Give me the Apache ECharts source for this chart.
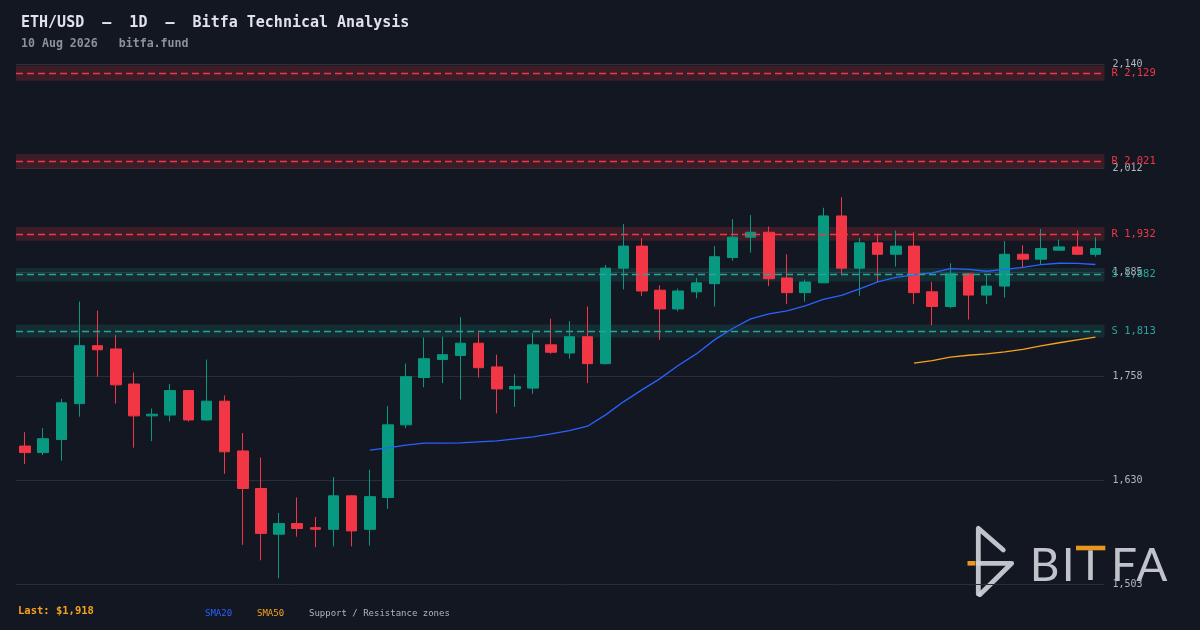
<!DOCTYPE html>
<html>
<head>
<meta charset="utf-8">
<script src="https://cdn.jsdelivr.net/npm/echarts@6/dist/echarts.min.js"></script>
<style>
  html, body { margin: 0; padding: 0; background: #131722; }
  #chart { width: 1200px; height: 630px; }
</style>
</head>
<body>
<div id="chart"></div>
<script>
// ---- data ----
const categories = [
  '2026-06-12','2026-06-13','2026-06-14','2026-06-15','2026-06-16','2026-06-17','2026-06-18','2026-06-19','2026-06-20','2026-06-21',
  '2026-06-22','2026-06-23','2026-06-24','2026-06-25','2026-06-26','2026-06-27','2026-06-28','2026-06-29','2026-06-30','2026-07-01',
  '2026-07-02','2026-07-03','2026-07-04','2026-07-05','2026-07-06','2026-07-07','2026-07-08','2026-07-09','2026-07-10','2026-07-11',
  '2026-07-12','2026-07-13','2026-07-14','2026-07-15','2026-07-16','2026-07-17','2026-07-18','2026-07-19','2026-07-20','2026-07-21',
  '2026-07-22','2026-07-23','2026-07-24','2026-07-25','2026-07-26','2026-07-27','2026-07-28','2026-07-29','2026-07-30','2026-07-31',
  '2026-08-01','2026-08-02','2026-08-03','2026-08-04','2026-08-05','2026-08-06','2026-08-07','2026-08-08','2026-08-09','2026-08-10'
];
const opens = [
  1672,1664,1680,1724,1795,1791,1748,1709,1710,1740,
  1704,1727,1666,1620,1564,1577,1572,1570,1611,1570,
  1609,1698,1756,1778,1783,1798,1769,1742,1743,1796,
  1786,1806,1773,1890,1917,1863,1840,1861,1871,1903,
  1928,1934,1878,1860,1872,1954,1890,1921,1907,1917,
  1861,1843,1883,1857,1868,1907,1901,1912,1916,1907
];
const closes = [
  1664,1681,1725,1795,1790,1747,1709,1711,1740,1704,
  1727,1665,1620,1565,1577,1571,1570,1611,1568,1610,
  1698,1757,1779,1784,1798,1768,1742,1745,1796,1787,
  1806,1773,1890,1917,1862,1840,1862,1872,1904,1928,
  1934,1877,1860,1873,1954,1890,1921,1907,1917,1860,
  1843,1883,1857,1868,1907,1901,1914,1916,1907,1914
];
const lows = [
  1650,1661,1654,1708,1757,1724,1670,1678,1702,1702,
  1703,1638,1551,1532,1510,1561,1548,1549,1549,1550,
  1595,1694,1744,1749,1729,1756,1712,1720,1736,1785,
  1779,1749,1772,1864,1856,1802,1837,1853,1843,1899,
  1909,1868,1846,1849,1872,1882,1856,1873,1892,1846,
  1820,1841,1827,1846,1854,1890,1894,1911,1906,1904
];
const highs = [
  1689,1694,1730,1849,1838,1808,1762,1718,1748,1740,
  1778,1734,1688,1658,1590,1609,1585,1634,1612,1643,
  1721,1773,1805,1806,1830,1811,1784,1760,1811,1828,
  1825,1843,1894,1944,1927,1869,1865,1878,1917,1950,
  1955,1941,1907,1876,1964,1977,1927,1932,1936,1934,
  1873,1896,1884,1881,1923,1918,1938,1925,1936,1928
];
const sma20 = [
  null,null,null,null,null,null,null,null,null,null,
  null,null,null,null,null,null,null,null,null,1666.9,
  1669.8,1673.1,1675.5,1675.5,1675.9,1677.1,1678.3,1680.8,1683.2,1686.9,
  1690.9,1696.3,1710.2,1726.5,1740.8,1754.6,1770.8,1784.9,1802.1,1816.1,
  1827.8,1833.9,1837.6,1843.7,1851.7,1856.6,1864.5,1873.1,1878.6,1881.7,
  1884.1,1889.4,1888.4,1886.2,1888.4,1890.9,1894.2,1896.0,1895.8,1894.5
];
const sma50 = [
  null,null,null,null,null,null,null,null,null,null,
  null,null,null,null,null,null,null,null,null,null,
  null,null,null,null,null,null,null,null,null,null,
  null,null,null,null,null,null,null,null,null,null,
  null,null,null,null,null,null,null,null,null,1773.5,
  1776.7,1780.9,1783.3,1784.9,1787.4,1790.4,1794.7,1798.6,1802.1,1805.4
];
const zoneLevels = [2129, 2021, 1932, 1882, 1813];
const zoneKinds  = ['R', 'R', 'R', 'S', 'S'];
const yTickLabels = ['1,503', '1,630', '1,758', '1,885', '2,012', '2,140'];
const lastPrice = 1918;

// ---- styling ----
const BG = '#131722';
const UP = '#089981';
const DOWN = '#f23645';
const RES = '#f23645';
const SUP = '#26a69a';
const MONO = '"DejaVu Sans Mono", "Liberation Mono", monospace';
const ZONE_HALF = 0.0044;

const fmt = v => v.toLocaleString('en-US');

const candleData = categories.map((_, i) => [opens[i], closes[i], lows[i], highs[i]]);

const markAreaData = zoneLevels.map((lv, i) => {
  const c = zoneKinds[i] === 'R' ? 'rgba(242,54,69,0.18)' : 'rgba(38,166,154,0.15)';
  return [{ yAxis: lv * (1 - ZONE_HALF), itemStyle: { color: c } }, { yAxis: lv * (1 + ZONE_HALF) }];
});
const markLineData = zoneLevels.map((lv, i) => {
  const c = zoneKinds[i] === 'R' ? RES : SUP;
  return {
    yAxis: lv,
    lineStyle: { color: c, type: [7, 4], width: 1.4 },
    label: { formatter: zoneKinds[i] + ' ' + fmt(lv), color: c }
  };
});

const chart = echarts.init(document.getElementById('chart'), null, { renderer: 'canvas' });

const option = {
  backgroundColor: BG,
  animation: false,
  grid: { left: 16, right: 95.5, top: 64.3, bottom: 45.7, containLabel: false },
  xAxis: {
    type: 'category',
    data: categories,
    boundaryGap: true,
    axisLine: { show: false },
    axisTick: { show: false },
    axisLabel: { show: false },
    splitLine: { show: false }
  },
  yAxis: [
    {
      type: 'value',
      position: 'right',
      min: 1502.6,
      max: 2139.8,
      show: false,
      scale: true
    },
    {
      type: 'value',
      position: 'right',
      min: 0,
      max: 5,
      interval: 1,
      axisLine: { show: false },
      axisTick: { show: false },
      axisLabel: {
        color: '#b2b5be',
        fontFamily: MONO,
        fontSize: 10,
        margin: 8,
        formatter: v => yTickLabels[Math.round(v)]
      },
      splitLine: { lineStyle: { color: '#2a2e39', width: 1 } }
    }
  ],
  series: [
    {
      type: 'candlestick',
      yAxisIndex: 0,
      data: candleData,
      barWidth: 11,
      itemStyle: {
        color: UP, color0: DOWN,
        borderColor: UP, borderColor0: DOWN,
        borderWidth: 1
      },
      markArea: { silent: true, data: markAreaData },
      markLine: {
        silent: true,
        symbol: 'none',
        label: { position: 'end', distance: 7, fontFamily: MONO, fontSize: 10.5 },
        data: markLineData
      }
    },
    {
      type: 'line',
      name: 'SMA20',
      yAxisIndex: 0,
      data: sma20,
      showSymbol: false,
      lineStyle: { color: '#2962ff', width: 1.3 },
      z: 3
    },
    {
      type: 'line',
      name: 'SMA50',
      yAxisIndex: 0,
      data: sma50,
      showSymbol: false,
      lineStyle: { color: '#f7a21b', width: 1.3 },
      z: 3
    }
  ],
  graphic: [
    { type: 'text', left: 21, top: 16, style: { text: 'ETH/USD  \u2014  1D  \u2014  Bitfa Technical Analysis', font: 'bold 15px ' + MONO, fill: '#e1e3ea' } },
    { type: 'text', left: 21, top: 38, style: { text: '10 Aug 2026   bitfa.fund', font: 'bold 11.6px ' + MONO, fill: '#8d919b' } },
    { type: 'text', left: 18, top: 606, style: { text: 'Last: $' + fmt(lastPrice), font: 'bold 10.5px ' + MONO, fill: '#f7a21b' } },
    { type: 'text', left: 205, top: 609, style: { text: 'SMA20', font: '9px ' + MONO, fill: '#2962ff' } },
    { type: 'text', left: 257, top: 609, style: { text: 'SMA50', font: '9px ' + MONO, fill: '#f7a21b' } },
    { type: 'text', left: 309, top: 609, style: { text: 'Support / Resistance zones', font: '9px ' + MONO, fill: '#b2b5be' } },
    // logo icon
    { type: 'polyline', silent: true, shape: { points: [[1003.3, 550], [978.3, 528.3], [978.3, 594]] },
      style: { stroke: '#cfd2d8', lineWidth: 4.8, fill: null, lineCap: 'round', lineJoin: 'round', opacity: 0.92 } },
    { type: 'polyline', silent: true, shape: { points: [[978.3, 563.3], [1011.7, 563.3], [980, 594.5]] },
      style: { stroke: '#cfd2d8', lineWidth: 4.8, fill: null, lineCap: 'round', lineJoin: 'round', opacity: 0.92 } },
    { type: 'line', silent: true, shape: { x1: 967.5, y1: 563.3, x2: 975.5, y2: 563.3 },
      style: { stroke: '#e8961e', lineWidth: 4.6 } },
    // logo wordmark
    { type: 'text', silent: true, style: { text: 'B', x: 1044.5, y: 566, align: 'center', verticalAlign: 'middle', font: '46px Lato, "Noto Sans", sans-serif', fill: '#cfd2d8', opacity: 0.92 } },
    { type: 'text', silent: true, style: { text: 'I', x: 1068.3, y: 566, align: 'center', verticalAlign: 'middle', font: '46px Lato, "Noto Sans", sans-serif', fill: '#cfd2d8', opacity: 0.92 } },
    { type: 'rect', silent: true, shape: { x: 1076, y: 545.7, width: 29.3, height: 4.6 }, style: { fill: '#e8961e' } },
    { type: 'rect', silent: true, shape: { x: 1088.2, y: 550.3, width: 4.6, height: 29.7 }, style: { fill: '#cfd2d8', opacity: 0.92 } },
    { type: 'text', silent: true, style: { text: 'F', x: 1124, y: 566, align: 'center', verticalAlign: 'middle', font: '46px Lato, "Noto Sans", sans-serif', fill: '#cfd2d8', opacity: 0.92 } },
    { type: 'text', silent: true, style: { text: 'A', x: 1151.7, y: 566, align: 'center', verticalAlign: 'middle', font: '46px Lato, "Noto Sans", sans-serif', fill: '#cfd2d8', opacity: 0.92 } }
  ]
};

chart.setOption(option);
</script>
</body>
</html>
